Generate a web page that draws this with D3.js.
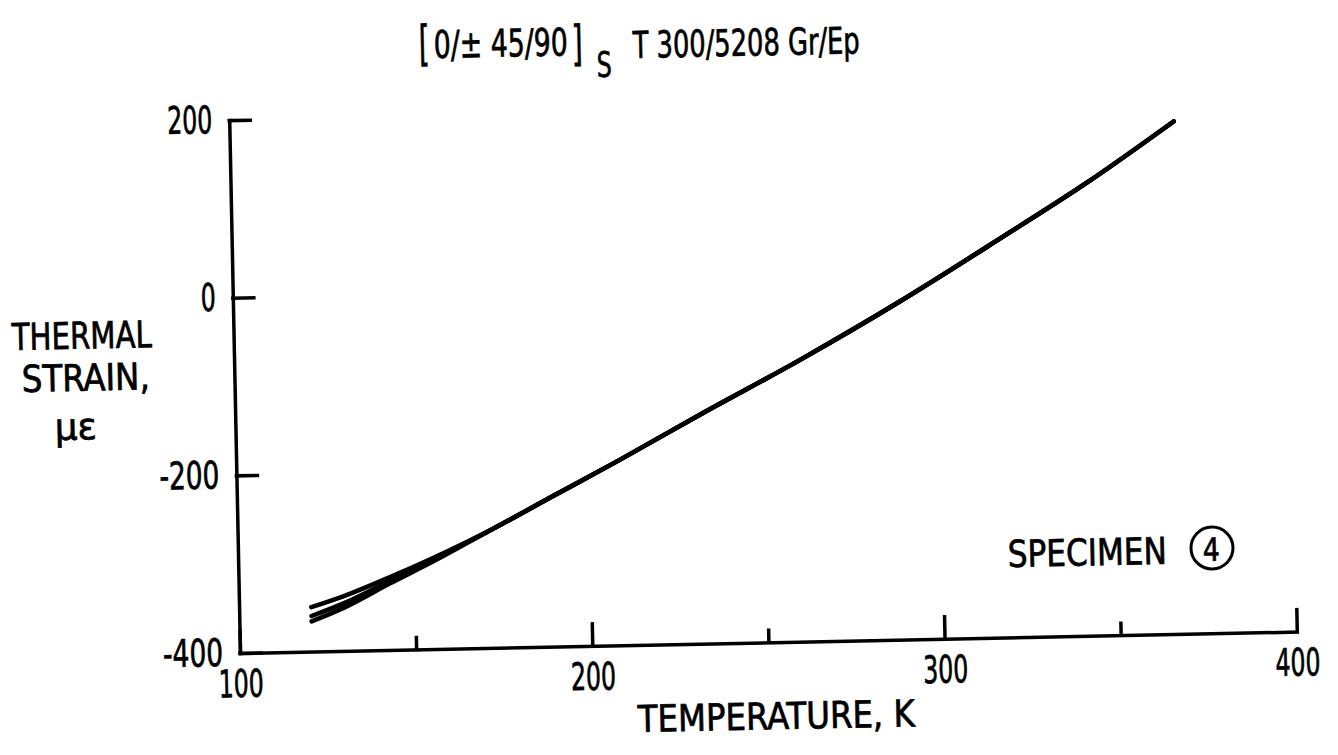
<!DOCTYPE html>
<html>
<head>
<meta charset="utf-8">
<script src="https://cdn.jsdelivr.net/npm/d3@7"></script>
<style>
  body { margin: 0; background: #fff; }
  #chart text {
    font-family: "Liberation Sans Narrow", "DejaVu Sans Condensed", "Liberation Sans", sans-serif;
    font-stretch: condensed;
    fill: #000;
    stroke: #000;
    stroke-width: 0.7px;
  }
</style>
</head>
<body>
<svg id="chart"></svg>
<script>
// temperatures (K)
const tempK = [120.5, 130, 143, 155, 172, 190, 209, 232, 261, 289, 318, 343, 368];

// three runs of the same specimen, they only split at the cold end
const strainRun1 = [-350, -338, -318, -298, -267, -230, -191, -142, -82, -20, 49, 110, 177];
const strainRun2 = [-360, -346, -322, -300, -267, -230, -191, -142, -82, -20, 49, 110, 177];
const strainRun3 = [-366, -351, -325, -302, -267, -230, -191, -142, -82, -20, 49, 110, 177];

const xMajorTicks = [100, 200, 300, 400];
const xMinorTicks = [150, 250, 350];
const yTicks = [-400, -200, 0, 200];

const width = 1338;
const height = 755;

// the scanned page is tilted a little, so the whole drawing is turned round the origin
const tilt = 1.16;
const ox = 240, oy = 653;
const sn = Math.sin((tilt * Math.PI) / 180);
const cs = Math.cos((tilt * Math.PI) / 180);
// page position -> position inside the tilted group
function loc(sx, sy) {
  const dx = sx - ox, dy = sy - oy;
  return [ox + dx * cs - dy * sn, oy + dx * sn + dy * cs];
}

const xScale = d3.scaleLinear().domain([100, 400]).range([240, 1297]);
const yScale = d3.scaleLinear().domain([-400, 200]).range([653, 120]);

const svg = d3.select("#chart").attr("width", width).attr("height", height);

const g = svg.append("g").attr("transform", `rotate(${-tilt},${ox},${oy})`);

// X axis, long ticks with labels
g.append("g")
  .attr("transform", `translate(0, ${yScale(-400)})`)
  .call(
    d3.axisBottom(xScale)
      .tickValues(xMajorTicks)
      .tickSizeInner(-22)
      .tickSizeOuter(0)
      .tickPadding(17)
      .tickFormat((d) => String(d))
  );

// X axis, short ticks in between
g.append("g")
  .attr("class", "minor")
  .attr("transform", `translate(0, ${yScale(-400)})`)
  .call(d3.axisBottom(xScale).tickValues(xMinorTicks).tickSize(-12).tickFormat(""));
g.select(".minor .domain").remove();

// Y axis
g.append("g")
  .attr("transform", `translate(${xScale(100)}, 0)`)
  .call(
    d3.axisLeft(yScale)
      .tickValues(yTicks)
      .tickSizeInner(-21)
      .tickSizeOuter(0)
      .tickPadding(17)
      .tickFormat((d) => String(d))
  );

g.selectAll(".domain").attr("stroke", "#000").attr("stroke-width", 3.5).attr("stroke-linecap", "square");
g.selectAll(".tick line").attr("stroke", "#000").attr("stroke-width", 3.5).attr("stroke-linecap", "square");
// narrow lettering like the original
g.selectAll(".tick text")
  .style("font-size", "38px")
  .attr("textLength", function () { return this.textContent.length * 15; })
  .attr("lengthAdjust", "spacingAndGlyphs");

// curves
const runs = [strainRun1, strainRun2, strainRun3];
const line = d3
  .line()
  .x((d) => xScale(d[0]))
  .y((d) => yScale(d[1]))
  .curve(d3.curveMonotoneX);

g.selectAll(".run")
  .data(runs)
  .enter()
  .append("path")
  .attr("class", "run")
  .attr("d", (r) => line(tempK.map((t, i) => [t, r[i]])))
  .attr("fill", "none")
  .attr("stroke", "#000")
  .attr("stroke-width", 4.5)
  .attr("stroke-linecap", "round");

// text helper: page x, baseline, width
function label(str, sx, sy, len, size) {
  const p = loc(sx, sy);
  const t = g.append("text")
    .attr("x", p[0])
    .attr("y", p[1])
    .style("font-size", size + "px")
    .text(str);
  if (len) t.attr("textLength", len).attr("lengthAdjust", "spacingAndGlyphs");
  return t;
}

// title
label("[", 419, 60, 11, 48);
label("0/\u00b1 45/90", 434, 58, 134, 38);
label("]", 572, 60, 11, 48);
label("S", 597, 77, 15, 35);
label("T 300/5208  Gr/Ep", 633, 58, 227, 37);

// axis titles
label("THERMAL", 12, 350, 140, 37);
label("STRAIN,", 22, 392, 128, 37);
label("\u03bc\u03b5", 55, 440, 42, 37);
label("TEMPERATURE, K", 638, 732, 277, 37);

// specimen note
label("SPECIMEN", 1008, 567, 159, 37);
const c = loc(1212, 548);
g.append("circle")
  .attr("cx", c[0])
  .attr("cy", c[1])
  .attr("r", 21)
  .attr("fill", "none")
  .attr("stroke", "#000")
  .attr("stroke-width", 3);
label("4", 1203, 561, 17, 32);
</script>
</body>
</html>
